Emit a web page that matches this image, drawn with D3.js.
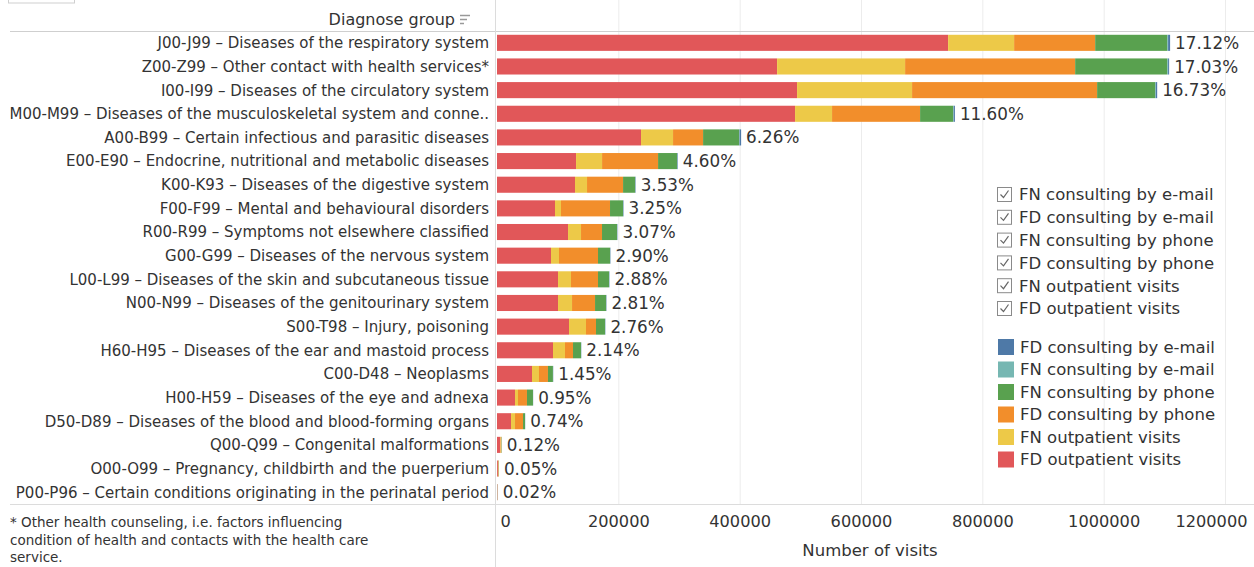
<!DOCTYPE html>
<html>
<head>
<meta charset="utf-8">
<script src="https://cdn.jsdelivr.net/npm/d3@7"></script>
<style>
  body { margin: 0; background: #fff; }
  text { font-family: "DejaVu Sans", Verdana, sans-serif; fill: #333; }
</style>
</head>
<body>
<script>
// diagnose groups, top to bottom
var categories = [
    "J00-J99 – Diseases of the respiratory system",
    "Z00-Z99 – Other contact with health services*",
    "I00-I99 – Diseases of the circulatory system",
    "M00-M99 – Diseases of the musculoskeletal system and conne..",
    "A00-B99 – Certain infectious and parasitic diseases",
    "E00-E90 – Endocrine, nutritional and metabolic diseases",
    "K00-K93 – Diseases of the digestive system",
    "F00-F99 – Mental and behavioural disorders",
    "R00-R99 – Symptoms not elsewhere classified",
    "G00-G99 – Diseases of the nervous system",
    "L00-L99 – Diseases of the skin and subcutaneous tissue",
    "N00-N99 – Diseases of the genitourinary system",
    "S00-T98 – Injury, poisoning",
    "H60-H95 – Diseases of the ear and mastoid process",
    "C00-D48 – Neoplasms",
    "H00-H59 – Diseases of the eye and adnexa",
    "D50-D89 – Diseases of the blood and blood-forming organs",
    "Q00-Q99 – Congenital malformations",
    "O00-O99 – Pregnancy, childbirth and the puerperium",
    "P00-P96 – Certain conditions originating in the perinatal period"
];

// share of all visits, %
var shares = [17.12, 17.03, 16.73, 11.60, 6.26, 4.60, 3.53, 3.25, 3.07, 2.90,
              2.88, 2.81, 2.76, 2.14, 1.45, 0.95, 0.74, 0.12, 0.05, 0.02];

// number of visits per series
var fdOutpatient = [743600, 461700, 494600, 491300, 237400, 130300, 128600, 95600, 117100, 89000,
                    100600, 100600, 118700, 92300, 57700, 29700, 23100, 5000, 1500, 500];
var fnOutpatient = [108800, 211000, 189600, 61000, 52800, 42900, 19800, 9900, 21400, 13200,
                    21400, 23100, 28000, 19800, 11500, 4900, 6600, 800, 500, 100];
var fdPhone      = [133600, 280300, 305000, 145100, 49500, 92300, 59400, 80800, 34600, 64300,
                    44500, 37900, 16500, 13200, 14800, 14800, 13200, 1400, 800, 300];
var fnPhone      = [118700, 151700, 95600, 54400, 59400, 31300, 19800, 21400, 24700, 19800,
                    18100, 18100, 14800, 13200, 8200, 9900, 3300, 600, 400, 200];
var fnEmail      = [1500, 1500, 1200, 1000, 800, 500, 400, 400, 300, 300,
                    300, 300, 300, 200, 200, 100, 100, 0, 0, 0];
var fdEmail      = [3300, 1700, 2200, 2000, 2500, 800, 600, 600, 500, 500,
                    500, 500, 400, 300, 300, 200, 200, 0, 0, 200];

var tickValues = [0, 200000, 400000, 600000, 800000, 1000000, 1200000];

var checkLegend = ["FN consulting by e-mail", "FD consulting by e-mail", "FN consulting by phone",
                   "FD consulting by phone", "FN outpatient visits", "FD outpatient visits"];
var colorLegend = ["FD consulting by e-mail", "FN consulting by e-mail", "FN consulting by phone",
                   "FD consulting by phone", "FN outpatient visits", "FD outpatient visits"];

var footnote = ["* Other health counseling, i.e. factors influencing",
                "condition of health and contacts with the health care",
                "service."];

var keys = ["FD outpatient visits", "FN outpatient visits", "FD consulting by phone",
            "FN consulting by phone", "FN consulting by e-mail", "FD consulting by e-mail"];
var series = [fdOutpatient, fnOutpatient, fdPhone, fnPhone, fnEmail, fdEmail];

var color = d3.scaleOrdinal()
    .domain(keys)
    .range(["#e15759", "#edc948", "#f28e2b", "#59a14f", "#76b7b2", "#4e79a7"]);

var width = 1254, height = 567;
var svg = d3.select("body").append("svg")
    .attr("width", width)
    .attr("height", height);

var x = d3.scaleLinear().domain([0, 1200000]).range([497, 1225]);
var y = d3.scaleBand().domain(categories).range([31, 504])
    .paddingInner(0.32).paddingOuter(0.16);

var rows = categories.map(function (c, i) {
    var r = {cat: c, share: shares[i]};
    keys.forEach(function (k, j) { r[k] = series[j][i]; });
    return r;
});
var stacked = d3.stack().keys(keys)(rows);

// gridlines
svg.append("g")
    .attr("transform", "translate(0,504)")
    .call(d3.axisBottom(x).tickValues(tickValues.slice(1)).tickSize(-504).tickFormat(""))
    .call(g => g.select(".domain").remove())
    .call(g => g.selectAll("line").attr("stroke", "#ececec"));

// frame lines
svg.append("line").attr("x1", 10).attr("x2", width).attr("y1", 31.5).attr("y2", 31.5)
    .attr("stroke", "#cfcfcf");
svg.append("line").attr("x1", 10).attr("x2", width).attr("y1", 504.5).attr("y2", 504.5)
    .attr("stroke", "#dcdcdc");
svg.append("line").attr("x1", 495.5).attr("x2", 495.5).attr("y1", 0).attr("y2", height)
    .attr("stroke", "#dcdcdc");
svg.append("rect").attr("x", 8.5).attr("y", -10).attr("width", 66).attr("height", 13)
    .attr("fill", "none").attr("stroke", "#cfcfcf");

// header
svg.append("text").attr("x", 455).attr("y", 25).attr("text-anchor", "end")
    .style("font-size", "16px").text("Diagnose group");
var sortIcon = svg.append("g").attr("stroke", "#999").attr("stroke-width", 1.5);
[[460, 470], [460, 467], [460, 464]].forEach(function (s, i) {
    sortIcon.append("line").attr("x1", s[0]).attr("x2", s[1])
        .attr("y1", 15.5 + i * 4).attr("y2", 15.5 + i * 4);
});

// category labels
svg.append("g").selectAll("text")
    .data(categories).enter().append("text")
    .attr("x", 489)
    .attr("y", d => y(d) + y.bandwidth() / 2)
    .attr("dy", "0.36em")
    .attr("text-anchor", "end")
    .style("font-size", "15px")
    .text(d => d);

// bars
svg.append("g").selectAll("g")
    .data(stacked).enter().append("g")
    .attr("fill", d => color(d.key))
    .selectAll("rect")
    .data(d => d).enter().append("rect")
    .attr("x", d => x(d[0]))
    .attr("y", d => y(d.data.cat))
    .attr("width", d => Math.max(0, x(d[1]) - x(d[0])))
    .attr("height", y.bandwidth());

// share labels
svg.append("g").selectAll("text")
    .data(rows).enter().append("text")
    .attr("x", d => x(d3.sum(keys, k => d[k])) + 5)
    .attr("y", d => y(d.cat) + y.bandwidth() / 2)
    .attr("dy", "0.36em")
    .style("font-size", "16.8px")
    .text(d => d.share.toFixed(2) + "%");

// x axis
var axis = svg.append("g")
    .attr("transform", "translate(0,512)")
    .call(d3.axisBottom(x).tickValues(tickValues).tickSize(0).tickFormat(d3.format("d")));
axis.select(".domain").remove();
axis.selectAll("text")
    .style("font-size", "16.2px")
    .attr("fill", "#333")
    .attr("text-anchor", (d, i) => i == 0 ? "start" : (i == tickValues.length - 1 ? "end" : "middle"))
    .attr("dx", (d, i) => i == 0 ? 3 : (i == tickValues.length - 1 ? 22 : 0));

svg.append("text").attr("x", 870).attr("y", 556).attr("text-anchor", "middle")
    .style("font-size", "16.5px").text("Number of visits");

// footnote
svg.append("g").selectAll("text")
    .data(footnote).enter().append("text")
    .attr("x", 10)
    .attr("y", (d, i) => 527 + i * 17.5)
    .style("font-size", "13.5px")
    .attr("fill", "#555")
    .text(d => d);

// filter legend (checkboxes)
var check = svg.append("g").selectAll("g")
    .data(checkLegend).enter().append("g")
    .attr("transform", (d, i) => "translate(997," + (187 + i * 22.8) + ")");
check.append("rect").attr("x", 0.5).attr("y", 0.5).attr("width", 14).attr("height", 14)
    .attr("fill", "#fff").attr("stroke", "#8a8a8a");
check.append("path").attr("d", "M3.5,7.5 L6.5,10.5 L11.5,3.5")
    .attr("fill", "none").attr("stroke", "#666").attr("stroke-width", 1.2);
check.append("text").attr("x", 22).attr("y", 7.5).attr("dy", "0.36em")
    .style("font-size", "16.5px").text(d => d);

// color legend
var leg = svg.append("g").selectAll("g")
    .data(colorLegend).enter().append("g")
    .attr("transform", (d, i) => "translate(998," + (339 + i * 22.5) + ")");
leg.append("rect").attr("width", 16).attr("height", 16).attr("fill", d => color(d));
leg.append("text").attr("x", 22).attr("y", 8).attr("dy", "0.36em")
    .style("font-size", "16.5px").text(d => d);
</script>
</body>
</html>
